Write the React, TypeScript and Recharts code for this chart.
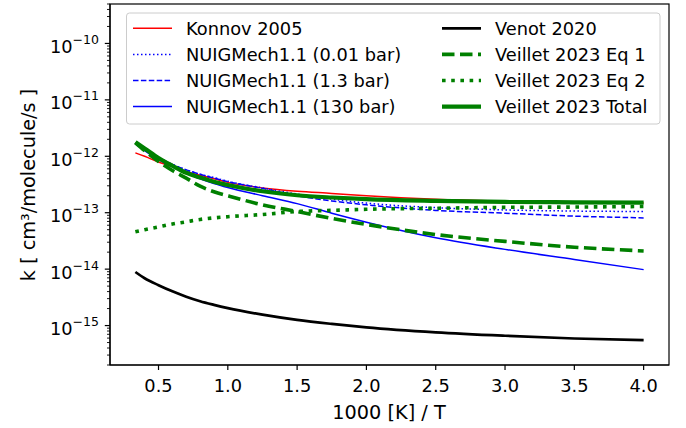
import React from "react"
import { LineChart, Line, XAxis, YAxis } from "recharts"

const FONT = "DejaVu Sans"
const FS = 17.8
const TITLE_FS = 19.3

// 1000/T sample positions
const invT = [0.333, 0.4, 0.5, 0.6, 0.7, 0.8, 0.9, 1.0, 1.25, 1.5, 1.75, 2.0, 2.5, 3.0, 3.5, 4.0]

// rate constants k [cm3/molecule/s]
const konnov2005 = [1.15e-12, 1.0e-12, 7.9e-13, 6.5e-13, 5.4e-13, 4.6e-13, 4.0e-13, 3.45e-13, 2.75e-13, 2.4e-13, 2.2e-13, 2.0e-13, 1.74e-13, 1.62e-13, 1.55e-13, 1.48e-13]
const nuig001 = [1.66e-12, 1.32e-12, 9.5e-13, 7.2e-13, 5.75e-13, 4.8e-13, 4.2e-13, 3.6e-13, 2.75e-13, 2.14e-13, 1.74e-13, 1.48e-13, 1.23e-13, 1.12e-13, 1.07e-13, 1.05e-13]
const nuig13 = [1.66e-12, 1.32e-12, 9.5e-13, 7.2e-13, 5.75e-13, 4.8e-13, 4.1e-13, 3.55e-13, 2.7e-13, 2.0e-13, 1.62e-13, 1.38e-13, 1.1e-13, 9.8e-14, 8.7e-14, 8.1e-14]
const nuig130 = [1.66e-12, 1.26e-12, 8.7e-13, 6.5e-13, 5.0e-13, 4.0e-13, 3.3e-13, 2.8e-13, 2.0e-13, 1.45e-13, 9.8e-14, 6.8e-14, 3.6e-14, 2.24e-14, 1.48e-14, 9.8e-15]
const venot2020 = [8.9e-15, 6.9e-15, 5.2e-15, 4.05e-15, 3.25e-15, 2.7e-15, 2.33e-15, 2.04e-15, 1.56e-15, 1.26e-15, 1.07e-15, 9.3e-16, 7.6e-16, 6.6e-16, 5.9e-16, 5.5e-16]
const veilletEq1 = [1.74e-12, 1.26e-12, 8.1e-13, 5.6e-13, 4.1e-13, 2.95e-13, 2.35e-13, 2.0e-13, 1.38e-13, 1.05e-13, 7.9e-14, 6.2e-14, 4.1e-14, 3.1e-14, 2.45e-14, 2.1e-14]
const veilletEq2 = [4.6e-14, 5.0e-14, 5.6e-14, 6.3e-14, 6.9e-14, 7.6e-14, 8.1e-14, 8.5e-14, 9.3e-14, 1.05e-13, 1.1e-13, 1.15e-13, 1.2e-13, 1.245e-13, 1.26e-13, 1.29e-13]
const veilletTotal = [1.78e-12, 1.38e-12, 9.3e-13, 6.8e-13, 5.1e-13, 4.2e-13, 3.55e-13, 3.1e-13, 2.4e-13, 2.04e-13, 1.86e-13, 1.74e-13, 1.62e-13, 1.55e-13, 1.53e-13, 1.51e-13]

const xTicks = [0.5, 1.0, 1.5, 2.0, 2.5, 3.0, 3.5, 4.0]
const yMajorExp = [-15, -14, -13, -12, -11, -10]

const series = [
  { key: "konnov", name: "Konnov 2005", values: konnov2005, color: "#ff0000", width: 1.5, dash: undefined },
  { key: "nuig001", name: "NUIGMech1.1 (0.01 bar)", values: nuig001, color: "#0000ff", width: 1.5, dash: "1.5 2.5" },
  { key: "nuig13", name: "NUIGMech1.1 (1.3 bar)", values: nuig13, color: "#0000ff", width: 1.5, dash: "5.5 2.4" },
  { key: "nuig130", name: "NUIGMech1.1 (130 bar)", values: nuig130, color: "#0000ff", width: 1.5, dash: undefined },
  { key: "venot", name: "Venot 2020", values: venot2020, color: "#000000", width: 2.7, dash: undefined },
  { key: "eq1", name: "Veillet 2023 Eq 1", values: veilletEq1, color: "#008000", width: 3.6, dash: "12.5 5.5" },
  { key: "eq2", name: "Veillet 2023 Eq 2", values: veilletEq2, color: "#008000", width: 3.6, dash: "3.6 5.6" },
  { key: "total", name: "Veillet 2023 Total", values: veilletTotal, color: "#008000", width: 4.2, dash: undefined },
]

const data = invT.map((x, i) => {
  const row: Record<string, number> = { x }
  for (const s of series) row[s.key] = s.values[i]
  return row
})

// major + minor ticks for the log axis
const yTicks: number[] = []
for (let e = -16; e <= -10; e++) {
  for (let m = 1; m <= 9; m++) {
    const v = m * Math.pow(10, e)
    if (v >= 2e-16 * 0.999 && v <= 5e-10 * 1.001) yTicks.push(v)
  }
}

function YTick(props: any) {
  const { x, y, payload } = props
  const v = payload.value as number
  const e = Math.round(Math.log10(v))
  const major = yMajorExp.includes(e) && Math.abs(v / Math.pow(10, e) - 1) < 1e-6
  if (!major) {
    return <line x1={x - 3} x2={x} y1={y} y2={y} stroke="#000" strokeWidth={0.9} />
  }
  return (
    <g>
      <line x1={x - 5.2} x2={x} y1={y} y2={y} stroke="#000" strokeWidth={1.2} />
      <text x={x - 11} y={y + 9.5} textAnchor="end" fontSize={FS} fontFamily={FONT} fill="#000">
        10
        <tspan dy={-9} fontSize={12.5}>{"\u2212" + Math.abs(e)}</tspan>
      </text>
    </g>
  )
}

const YTitle = () => (
  <text x={28} y={185} transform="rotate(-90 28 185)" textAnchor="middle" dominantBaseline="central" fontSize={TITLE_FS} fontFamily={FONT} fill="#000">
    k [ cm³/molecule/s ]
  </text>
)

const XTitle = () => (
  <text x={389} y={419} textAnchor="middle" fontSize={TITLE_FS} fontFamily={FONT} fill="#000">
    1000 [K] / T
  </text>
)

// plot frame + legend drawn over the chart
function Overlay() {
  const rowY = (i: number) => 28.3 + i * 26.1
  const cols = [
    { lineX: 133, textX: 186 },
    { lineX: 442, textX: 495 },
  ]
  return (
    <svg width={686} height={428} style={{ position: "absolute", left: 0, top: 0, pointerEvents: "none" }}>
      <rect x={110} y={4} width={559} height={361} fill="none" stroke="#000" strokeWidth={1.2} />
      <rect x={126.5} y={13} width={533.5} height={111} rx={3} fill="#fff" fillOpacity={0.8} stroke="#cccccc" strokeWidth={1} />
      {series.map((s, i) => {
        const col = cols[Math.floor(i / 4)]
        const y = rowY(i % 4)
        return (
          <g key={s.key}>
            <line x1={col.lineX} x2={col.lineX + 39} y1={y} y2={y} stroke={s.color} strokeWidth={s.width} strokeDasharray={s.dash} />
            <text x={col.textX} y={y} dominantBaseline="central" fontSize={FS} fontFamily={FONT} fill="#000">
              {s.name}
            </text>
          </g>
        )
      })}
    </svg>
  )
}

export default function App() {
  return (
    <div style={{ position: "absolute", left: 0, top: 0, width: 686, height: 428, background: "#fff", fontFamily: FONT }}>
      <LineChart width={686} height={428} data={data} margin={{ top: 4, right: 17, bottom: 0, left: 0 }}>
        <XAxis
          dataKey="x"
          type="number"
          domain={[0.15, 4.183]}
          allowDataOverflow
          ticks={xTicks}
          interval={0}
          tickFormatter={(v: number) => v.toFixed(1)}
          height={63}
          stroke="#000"
          strokeWidth={1.2}
          tickSize={5}
          tickMargin={9}
          tick={{ fill: "#000", fontSize: FS, fontFamily: FONT }}
          label={<XTitle />}
        />
        <YAxis
          type="number"
          scale="log"
          domain={[2e-16, 5e-10]}
          allowDataOverflow
          ticks={yTicks}
          interval={0}
          width={110}
          stroke="#000"
          strokeWidth={1.2}
          tickSize={0}
          tickMargin={0}
          tickLine={false}
          tick={<YTick />}
          label={<YTitle />}
        />
        {series.map((s) => (
          <Line
            key={s.key}
            type="monotone"
            dataKey={s.key}
            stroke={s.color}
            strokeWidth={s.width}
            strokeDasharray={s.dash}
            dot={false}
            isAnimationActive={false}
          />
        ))}
      </LineChart>
      <Overlay />
    </div>
  )
}
